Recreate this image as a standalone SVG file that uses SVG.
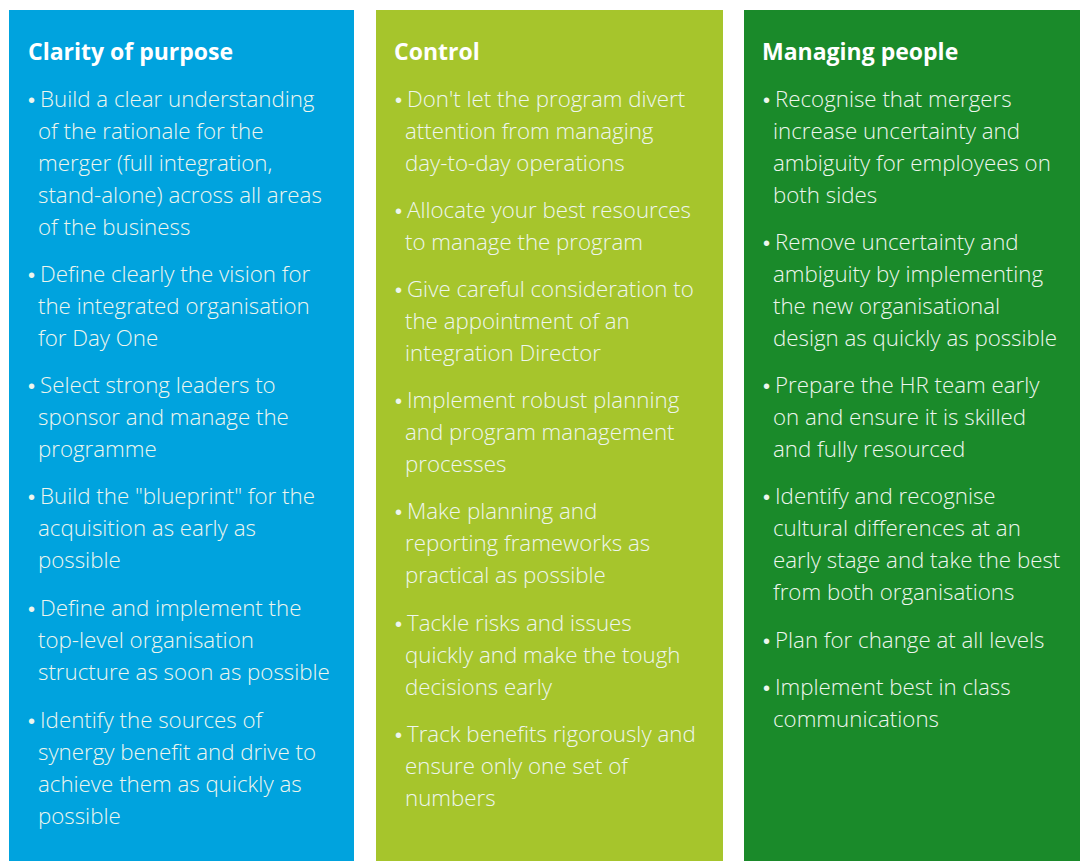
<svg xmlns="http://www.w3.org/2000/svg" width="1080" height="861" viewBox="0 0 1080 861">
<style>
.t{font-family:"Open Sans","Liberation Sans",sans-serif;font-weight:700;font-size:23px;fill:#ffffff}
.b{font-family:"Open Sans","Liberation Sans",sans-serif;font-weight:300;font-size:22.3px;fill:#eef6ee}
.d{font-family:"Liberation Sans",sans-serif;font-weight:400;font-size:20px}
</style>
<rect width="1080" height="861" fill="#ffffff"/>
<g id="clarity">
<rect x="9" y="10" width="345" height="851" fill="#00A3DE"/>
<text class="t" x="28" y="60">Clarity of purpose</text>
<g class="b">
<text x="28" y="107"><tspan class="d">•</tspan><tspan x="40">Build a clear understanding</tspan></text>
<text x="38" y="139">of the rationale for the</text>
<text x="38" y="171">merger (full integration,</text>
<text x="38" y="203">stand-alone) across all areas</text>
<text x="38" y="235">of the business</text>
<text x="28" y="282"><tspan class="d">•</tspan><tspan x="40">Define clearly the vision for</tspan></text>
<text x="38" y="314">the integrated organisation</text>
<text x="38" y="346">for Day One</text>
<text x="28" y="393"><tspan class="d">•</tspan><tspan x="40">Select strong leaders to</tspan></text>
<text x="38" y="425">sponsor and manage the</text>
<text x="38" y="457">programme</text>
<text x="28" y="504"><tspan class="d">•</tspan><tspan x="40">Build the "blueprint" for the</tspan></text>
<text x="38" y="536">acquisition as early as</text>
<text x="38" y="568">possible</text>
<text x="28" y="616"><tspan class="d">•</tspan><tspan x="40">Define and implement the</tspan></text>
<text x="38" y="648">top-level organisation</text>
<text x="38" y="680">structure as soon as possible</text>
<text x="28" y="728"><tspan class="d">•</tspan><tspan x="40">Identify the sources of</tspan></text>
<text x="38" y="760">synergy benefit and drive to</text>
<text x="38" y="792">achieve them as quickly as</text>
<text x="38" y="824">possible</text>
</g>
</g>
<g id="control">
<rect x="376" y="10" width="347" height="851" fill="#A6C52C"/>
<text class="t" x="394" y="60">Control</text>
<g class="b">
<text x="395" y="107"><tspan class="d">•</tspan><tspan x="407">Don't let the program divert</tspan></text>
<text x="405" y="139">attention from managing</text>
<text x="405" y="171">day-to-day operations</text>
<text x="395" y="218"><tspan class="d">•</tspan><tspan x="407">Allocate your best resources</tspan></text>
<text x="405" y="250">to manage the program</text>
<text x="395" y="297"><tspan class="d">•</tspan><tspan x="407">Give careful consideration to</tspan></text>
<text x="405" y="329">the appointment of an</text>
<text x="405" y="361">integration Director</text>
<text x="395" y="408"><tspan class="d">•</tspan><tspan x="407">Implement robust planning</tspan></text>
<text x="405" y="440">and program management</text>
<text x="405" y="472">processes</text>
<text x="395" y="519"><tspan class="d">•</tspan><tspan x="407">Make planning and</tspan></text>
<text x="405" y="551">reporting frameworks as</text>
<text x="405" y="583">practical as possible</text>
<text x="395" y="631"><tspan class="d">•</tspan><tspan x="407">Tackle risks and issues</tspan></text>
<text x="405" y="663">quickly and make the tough</text>
<text x="405" y="695">decisions early</text>
<text x="395" y="742"><tspan class="d">•</tspan><tspan x="407">Track benefits rigorously and</tspan></text>
<text x="405" y="774">ensure only one set of</text>
<text x="405" y="806">numbers</text>
</g>
</g>
<g id="people">
<rect x="744" y="10" width="336" height="851" fill="#1A8A2A"/>
<text class="t" x="762" y="60">Managing people</text>
<g class="b">
<text x="763" y="107"><tspan class="d">•</tspan><tspan x="775">Recognise that mergers</tspan></text>
<text x="773" y="139">increase uncertainty and</text>
<text x="773" y="171">ambiguity for employees on</text>
<text x="773" y="203">both sides</text>
<text x="763" y="250"><tspan class="d">•</tspan><tspan x="775">Remove uncertainty and</tspan></text>
<text x="773" y="282">ambiguity by implementing</text>
<text x="773" y="314">the new organisational</text>
<text x="773" y="346">design as quickly as possible</text>
<text x="763" y="393"><tspan class="d">•</tspan><tspan x="775">Prepare the HR team early</tspan></text>
<text x="773" y="425">on and ensure it is skilled</text>
<text x="773" y="457">and fully resourced</text>
<text x="763" y="504"><tspan class="d">•</tspan><tspan x="775">Identify and recognise</tspan></text>
<text x="773" y="536">cultural differences at an</text>
<text x="773" y="568">early stage and take the best</text>
<text x="773" y="600">from both organisations</text>
<text x="763" y="648"><tspan class="d">•</tspan><tspan x="775">Plan for change at all levels</tspan></text>
<text x="763" y="695"><tspan class="d">•</tspan><tspan x="775">Implement best in class</tspan></text>
<text x="773" y="727">communications</text>
</g>
</g>
</svg>
